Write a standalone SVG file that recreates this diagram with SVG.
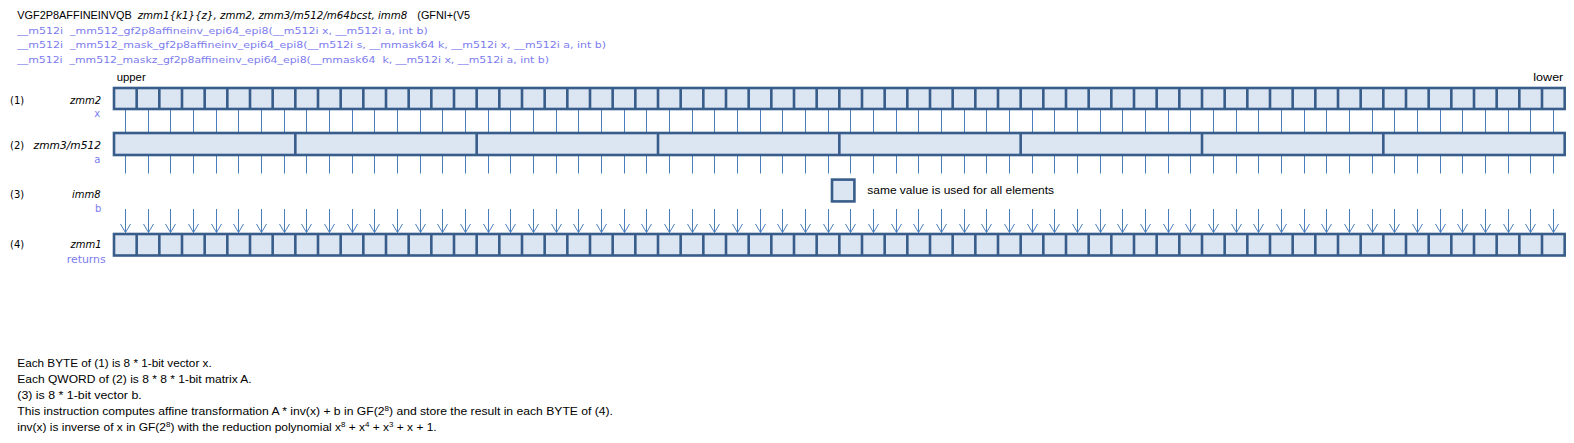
<svg xmlns="http://www.w3.org/2000/svg" width="1574" height="443" viewBox="0 0 1574 443">
<style>
.bg{fill:#ffffff}
.reg{fill:#DCE6F2;stroke:#385D8A;stroke-width:2.6}
.div{fill:none;stroke:#385D8A;stroke-width:2.6}
.con{fill:none;stroke:#4A7EBB;stroke-width:1}
.t{font-family:"Liberation Sans",Arial,sans-serif;font-size:10.5px;fill:#000}
.ti{font-family:"DejaVu Sans",Verdana,sans-serif;font-style:italic;font-size:10px;fill:#000}
.tl{font-family:"DejaVu Sans",Verdana,sans-serif;font-size:10px;fill:#000}
.tb{font-family:"DejaVu Sans",Verdana,sans-serif;font-size:9.5px;fill:#7C7CEE;white-space:pre}
.lb{font-family:"DejaVu Sans",Verdana,sans-serif;font-size:10px;fill:#7C7CEE}
</style>
<defs>
<marker id="ah" markerUnits="userSpaceOnUse" viewBox="-10 -10 20 20" markerWidth="20" markerHeight="20" refX="0" refY="0" orient="auto" overflow="visible">
<path d="M-8.5,-5 L0,0 L-8.5,5" fill="none" stroke="#4A7EBB" stroke-width="1"/>
</marker>
</defs>
<rect class="bg" x="0" y="0" width="1574" height="443"/>

<g id="header">
<text class="t" x="17.3" y="18.6" textLength="114.4" lengthAdjust="spacingAndGlyphs">VGF2P8AFFINEINVQB</text>
<text class="ti" x="137.7" y="18.6" textLength="269.6" lengthAdjust="spacingAndGlyphs">zmm1{k1}{z}, zmm2, zmm3/m512/m64bcst, imm8</text>
<text class="t" x="417.3" y="18.6" textLength="52.7" lengthAdjust="spacingAndGlyphs">(GFNI+(V5</text>
<text class="tb" x="17.3" y="33.5" textLength="410.4" lengthAdjust="spacingAndGlyphs">__m512i  _mm512_gf2p8affineinv_epi64_epi8(__m512i x, __m512i a, int b)</text>
<text class="tb" x="17.3" y="48.2" textLength="588.7" lengthAdjust="spacingAndGlyphs">__m512i  _mm512_mask_gf2p8affineinv_epi64_epi8(__m512i s, __mmask64 k, __m512i x, __m512i a, int b)</text>
<text class="tb" x="17.3" y="63" textLength="531.7" lengthAdjust="spacingAndGlyphs">__m512i  _mm512_maskz_gf2p8affineinv_epi64_epi8(__mmask64  k, __m512i x, __m512i a, int b)</text>
<text class="t" x="116.7" y="80.5" textLength="29" lengthAdjust="spacingAndGlyphs">upper</text>
<text class="t" x="1533.3" y="80.5" textLength="30" lengthAdjust="spacingAndGlyphs">lower</text>
</g>

<g id="connectors">
<path class="con" d="M125.5 110V132M148.5 110V132M170.5 110V132M193.5 110V132M216.5 110V132M238.5 110V132M261.5 110V132M284.5 110V132M306.5 110V132M329.5 110V132M352.5 110V132M374.5 110V132M397.5 110V132M420.5 110V132M442.5 110V132M465.5 110V132M488.5 110V132M510.5 110V132M533.5 110V132M556.5 110V132M578.5 110V132M601.5 110V132M624.5 110V132M646.5 110V132M669.5 110V132M692.5 110V132M714.5 110V132M737.5 110V132M760.5 110V132M782.5 110V132M805.5 110V132M828.5 110V132M850.5 110V132M873.5 110V132M896.5 110V132M918.5 110V132M941.5 110V132M964.5 110V132M986.5 110V132M1009.5 110V132M1032.5 110V132M1054.5 110V132M1077.5 110V132M1100.5 110V132M1122.5 110V132M1145.5 110V132M1168.5 110V132M1190.5 110V132M1213.5 110V132M1236.5 110V132M1258.5 110V132M1281.5 110V132M1304.5 110V132M1326.5 110V132M1349.5 110V132M1372.5 110V132M1394.5 110V132M1417.5 110V132M1440.5 110V132M1462.5 110V132M1485.5 110V132M1508.5 110V132M1530.5 110V132M1553.5 110V132"/>
<path class="con" d="M125.5 156V173.5M148.5 156V173.5M170.5 156V173.5M193.5 156V173.5M216.5 156V173.5M238.5 156V173.5M261.5 156V173.5M284.5 156V173.5M306.5 156V173.5M329.5 156V173.5M352.5 156V173.5M374.5 156V173.5M397.5 156V173.5M420.5 156V173.5M442.5 156V173.5M465.5 156V173.5M488.5 156V173.5M510.5 156V173.5M533.5 156V173.5M556.5 156V173.5M578.5 156V173.5M601.5 156V173.5M624.5 156V173.5M646.5 156V173.5M669.5 156V173.5M692.5 156V173.5M714.5 156V173.5M737.5 156V173.5M760.5 156V173.5M782.5 156V173.5M805.5 156V173.5M828.5 156V173.5M850.5 156V173.5M873.5 156V173.5M896.5 156V173.5M918.5 156V173.5M941.5 156V173.5M964.5 156V173.5M986.5 156V173.5M1009.5 156V173.5M1032.5 156V173.5M1054.5 156V173.5M1077.5 156V173.5M1100.5 156V173.5M1122.5 156V173.5M1145.5 156V173.5M1168.5 156V173.5M1190.5 156V173.5M1213.5 156V173.5M1236.5 156V173.5M1258.5 156V173.5M1281.5 156V173.5M1304.5 156V173.5M1326.5 156V173.5M1349.5 156V173.5M1372.5 156V173.5M1394.5 156V173.5M1417.5 156V173.5M1440.5 156V173.5M1462.5 156V173.5M1485.5 156V173.5M1508.5 156V173.5M1530.5 156V173.5M1553.5 156V173.5"/>
<g class="con" marker-end="url(#ah)">
<line x1="125.5" y1="209" x2="125.5" y2="232.5"/><line x1="148.5" y1="209" x2="148.5" y2="232.5"/><line x1="170.5" y1="209" x2="170.5" y2="232.5"/><line x1="193.5" y1="209" x2="193.5" y2="232.5"/><line x1="216.5" y1="209" x2="216.5" y2="232.5"/><line x1="238.5" y1="209" x2="238.5" y2="232.5"/><line x1="261.5" y1="209" x2="261.5" y2="232.5"/><line x1="284.5" y1="209" x2="284.5" y2="232.5"/>
<line x1="306.5" y1="209" x2="306.5" y2="232.5"/><line x1="329.5" y1="209" x2="329.5" y2="232.5"/><line x1="352.5" y1="209" x2="352.5" y2="232.5"/><line x1="374.5" y1="209" x2="374.5" y2="232.5"/><line x1="397.5" y1="209" x2="397.5" y2="232.5"/><line x1="420.5" y1="209" x2="420.5" y2="232.5"/><line x1="442.5" y1="209" x2="442.5" y2="232.5"/><line x1="465.5" y1="209" x2="465.5" y2="232.5"/>
<line x1="488.5" y1="209" x2="488.5" y2="232.5"/><line x1="510.5" y1="209" x2="510.5" y2="232.5"/><line x1="533.5" y1="209" x2="533.5" y2="232.5"/><line x1="556.5" y1="209" x2="556.5" y2="232.5"/><line x1="578.5" y1="209" x2="578.5" y2="232.5"/><line x1="601.5" y1="209" x2="601.5" y2="232.5"/><line x1="624.5" y1="209" x2="624.5" y2="232.5"/><line x1="646.5" y1="209" x2="646.5" y2="232.5"/>
<line x1="669.5" y1="209" x2="669.5" y2="232.5"/><line x1="692.5" y1="209" x2="692.5" y2="232.5"/><line x1="714.5" y1="209" x2="714.5" y2="232.5"/><line x1="737.5" y1="209" x2="737.5" y2="232.5"/><line x1="760.5" y1="209" x2="760.5" y2="232.5"/><line x1="782.5" y1="209" x2="782.5" y2="232.5"/><line x1="805.5" y1="209" x2="805.5" y2="232.5"/><line x1="828.5" y1="209" x2="828.5" y2="232.5"/>
<line x1="850.5" y1="209" x2="850.5" y2="232.5"/><line x1="873.5" y1="209" x2="873.5" y2="232.5"/><line x1="896.5" y1="209" x2="896.5" y2="232.5"/><line x1="918.5" y1="209" x2="918.5" y2="232.5"/><line x1="941.5" y1="209" x2="941.5" y2="232.5"/><line x1="964.5" y1="209" x2="964.5" y2="232.5"/><line x1="986.5" y1="209" x2="986.5" y2="232.5"/><line x1="1009.5" y1="209" x2="1009.5" y2="232.5"/>
<line x1="1032.5" y1="209" x2="1032.5" y2="232.5"/><line x1="1054.5" y1="209" x2="1054.5" y2="232.5"/><line x1="1077.5" y1="209" x2="1077.5" y2="232.5"/><line x1="1100.5" y1="209" x2="1100.5" y2="232.5"/><line x1="1122.5" y1="209" x2="1122.5" y2="232.5"/><line x1="1145.5" y1="209" x2="1145.5" y2="232.5"/><line x1="1168.5" y1="209" x2="1168.5" y2="232.5"/><line x1="1190.5" y1="209" x2="1190.5" y2="232.5"/>
<line x1="1213.5" y1="209" x2="1213.5" y2="232.5"/><line x1="1236.5" y1="209" x2="1236.5" y2="232.5"/><line x1="1258.5" y1="209" x2="1258.5" y2="232.5"/><line x1="1281.5" y1="209" x2="1281.5" y2="232.5"/><line x1="1304.5" y1="209" x2="1304.5" y2="232.5"/><line x1="1326.5" y1="209" x2="1326.5" y2="232.5"/><line x1="1349.5" y1="209" x2="1349.5" y2="232.5"/><line x1="1372.5" y1="209" x2="1372.5" y2="232.5"/>
<line x1="1394.5" y1="209" x2="1394.5" y2="232.5"/><line x1="1417.5" y1="209" x2="1417.5" y2="232.5"/><line x1="1440.5" y1="209" x2="1440.5" y2="232.5"/><line x1="1462.5" y1="209" x2="1462.5" y2="232.5"/><line x1="1485.5" y1="209" x2="1485.5" y2="232.5"/><line x1="1508.5" y1="209" x2="1508.5" y2="232.5"/><line x1="1530.5" y1="209" x2="1530.5" y2="232.5"/><line x1="1553.5" y1="209" x2="1553.5" y2="232.5"/>
</g>
</g>

<g id="row1-zmm2">
<text class="tl" x="10" y="104">(1)</text>
<text class="ti" x="101" y="104" text-anchor="end">zmm2</text>
<text class="lb" x="94.3" y="116.8">x</text>
<rect class="reg" x="114" y="88" width="1450.67" height="21"/>
<path class="div" d="M136.67 88v21M159.33 88v21M182 88v21M204.67 88v21M227.33 88v21M250 88v21M272.67 88v21M295.33 88v21M318 88v21M340.67 88v21M363.33 88v21M386 88v21M408.67 88v21M431.33 88v21M454 88v21M476.67 88v21M499.33 88v21M522 88v21M544.67 88v21M567.33 88v21M590 88v21M612.67 88v21M635.33 88v21M658 88v21M680.67 88v21M703.33 88v21M726 88v21M748.67 88v21M771.33 88v21M794 88v21M816.67 88v21M839.33 88v21M862 88v21M884.67 88v21M907.33 88v21M930 88v21M952.67 88v21M975.33 88v21M998 88v21M1020.67 88v21M1043.33 88v21M1066 88v21M1088.67 88v21M1111.33 88v21M1134 88v21M1156.67 88v21M1179.33 88v21M1202 88v21M1224.67 88v21M1247.33 88v21M1270 88v21M1292.67 88v21M1315.33 88v21M1338 88v21M1360.67 88v21M1383.33 88v21M1406 88v21M1428.67 88v21M1451.33 88v21M1474 88v21M1496.67 88v21M1519.33 88v21M1542 88v21"/>
</g>

<g id="row2-zmm3-m512">
<text class="tl" x="10" y="148.5">(2)</text>
<text class="ti" x="101" y="148.5" text-anchor="end" textLength="67.4" lengthAdjust="spacingAndGlyphs">zmm3/m512</text>
<text class="lb" x="94.3" y="163.4">a</text>
<rect class="reg" x="114" y="133" width="1450.67" height="22"/>
<path class="div" d="M295.33 133v22M476.67 133v22M658 133v22M839.33 133v22M1020.67 133v22M1202 133v22M1383.33 133v22"/>
</g>

<g id="row3-imm8">
<text class="tl" x="10" y="197.6">(3)</text>
<text class="ti" x="100.5" y="197.6" text-anchor="end">imm8</text>
<text class="lb" x="95" y="211.5">b</text>
<rect class="reg" x="832" y="179.6" width="22.4" height="21.8"/>
<text class="t" x="867.3" y="194" textLength="186.7" lengthAdjust="spacingAndGlyphs">same value is used for all elements</text>
</g>

<g id="row4-zmm1">
<text class="tl" x="10" y="248.3">(4)</text>
<text class="ti" x="101.7" y="248.3" text-anchor="end">zmm1</text>
<text class="lb" x="66.7" y="263" textLength="39" lengthAdjust="spacingAndGlyphs">returns</text>
<rect class="reg" x="114" y="234" width="1450.67" height="21.5"/>
<path class="div" d="M136.67 234v21.5M159.33 234v21.5M182 234v21.5M204.67 234v21.5M227.33 234v21.5M250 234v21.5M272.67 234v21.5M295.33 234v21.5M318 234v21.5M340.67 234v21.5M363.33 234v21.5M386 234v21.5M408.67 234v21.5M431.33 234v21.5M454 234v21.5M476.67 234v21.5M499.33 234v21.5M522 234v21.5M544.67 234v21.5M567.33 234v21.5M590 234v21.5M612.67 234v21.5M635.33 234v21.5M658 234v21.5M680.67 234v21.5M703.33 234v21.5M726 234v21.5M748.67 234v21.5M771.33 234v21.5M794 234v21.5M816.67 234v21.5M839.33 234v21.5M862 234v21.5M884.67 234v21.5M907.33 234v21.5M930 234v21.5M952.67 234v21.5M975.33 234v21.5M998 234v21.5M1020.67 234v21.5M1043.33 234v21.5M1066 234v21.5M1088.67 234v21.5M1111.33 234v21.5M1134 234v21.5M1156.67 234v21.5M1179.33 234v21.5M1202 234v21.5M1224.67 234v21.5M1247.33 234v21.5M1270 234v21.5M1292.67 234v21.5M1315.33 234v21.5M1338 234v21.5M1360.67 234v21.5M1383.33 234v21.5M1406 234v21.5M1428.67 234v21.5M1451.33 234v21.5M1474 234v21.5M1496.67 234v21.5M1519.33 234v21.5M1542 234v21.5"/>
</g>

<g id="notes">
<text class="t" x="17.3" y="366.8" textLength="194.4" lengthAdjust="spacingAndGlyphs">Each BYTE  of (1) is 8 * 1-bit vector x.</text>
<text class="t" x="17.3" y="382.8" textLength="234.4" lengthAdjust="spacingAndGlyphs">Each QWORD of (2) is 8 * 8 * 1-bit matrix A.</text>
<text class="t" x="17.3" y="398.8" textLength="124.4" lengthAdjust="spacingAndGlyphs">(3) is 8 * 1-bit vector b.</text>
<text class="t" x="17.3" y="414.8" textLength="595.7" lengthAdjust="spacingAndGlyphs">This instruction computes affine transformation A * inv(x) + b in GF(2<tspan font-size="7" dy="-4">8</tspan><tspan dy="4">) and store the result in each BYTE  of (4).</tspan></text>
<text class="t" x="17.3" y="430.6" textLength="419.4" lengthAdjust="spacingAndGlyphs">inv(x) is inverse of x in GF(2<tspan font-size="7" dy="-4">8</tspan><tspan dy="4">) with the reduction polynomial x</tspan><tspan font-size="7" dy="-4">8</tspan><tspan dy="4"> + x</tspan><tspan font-size="7" dy="-4">4</tspan><tspan dy="4"> + x</tspan><tspan font-size="7" dy="-4">3</tspan><tspan dy="4"> + x + 1.</tspan></text>
</g>
</svg>
